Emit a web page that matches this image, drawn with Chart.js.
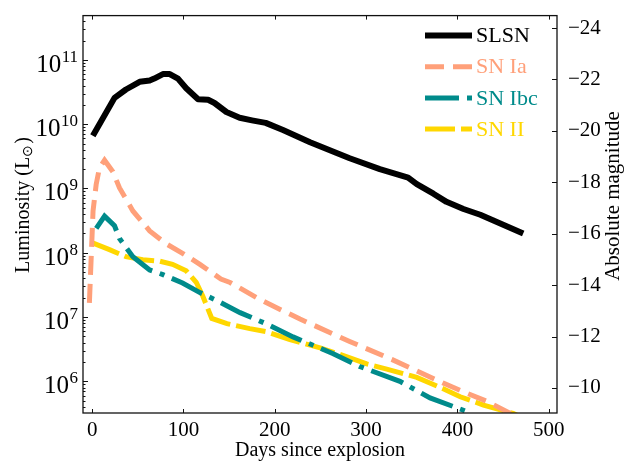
<!DOCTYPE html>
<html><head><meta charset="utf-8">
<script src="https://cdn.jsdelivr.net/npm/chart.js@4.4.1/dist/chart.umd.min.js"></script>
<style>html,body{margin:0;padding:0;background:#fff;}</style>
</head><body>
<canvas id="c" width="625" height="462"></canvas>
<script>
// ---- data ----
const seriesNames = ['SLSN', 'SN Ia', 'SN Ibc', 'SN II'];

const slsnDays = [0.8, 24.5, 37, 52, 63, 68, 77.5, 85, 94, 103, 116, 127, 134, 147, 161.5, 175, 190, 209, 238.6, 282, 315, 346, 355.5, 373.7, 388, 406.6, 425, 472];
const slsnLum  = [6.6e9, 2.57e10, 3.47e10, 4.57e10, 4.79e10, 5.13e10, 6.03e10, 6.03e10, 5.13e10, 3.63e10, 2.45e10, 2.40e10, 2.14e10, 1.55e10, 1.26e10, 1.15e10, 1.05e10, 8.1e9, 5.25e9, 2.95e9, 2.0e9, 1.48e9, 1.17e9, 8.3e8, 6.2e8, 4.8e8, 3.9e8, 2.0e8];

const iaDays = [-3, 1, 4.4, 8, 13.6, 22.7, 30, 44.6, 63, 81, 99, 118, 141, 151, 184, 227.6, 271, 282, 328, 385, 403, 432, 458, 470];
const iaLum  = [1.66e7, 4.47e8, 1.15e9, 2.09e9, 2.75e9, 1.82e9, 1.02e9, 4.47e8, 2.19e8, 1.38e8, 9.8e7, 6.6e7, 3.9e7, 3.45e7, 1.86e7, 9.3e6, 4.9e6, 4.17e6, 2.19e6, 9.3e5, 7.2e5, 4.9e5, 3.16e5, 2.7e5];

const ibcDays = [4.5, 13.6, 24.5, 30, 44.6, 63, 77.5, 99, 118, 136, 162, 191, 220, 264, 293, 337, 370, 414];
const ibcLum  = [2.4e8, 3.72e8, 2.63e8, 1.66e8, 8.7e7, 5.4e7, 4.57e7, 3.39e7, 2.4e7, 1.82e7, 1.17e7, 7.8e6, 4.9e6, 2.69e6, 1.7e6, 1.0e6, 5.5e5, 3.24e5];

const iiDays = [-1, 19, 37, 55.5, 74, 88, 103, 114, 121, 131, 147.6, 172.6, 191, 216.6, 249.6, 271, 300.7, 322.6, 355.5, 385, 403, 428.5, 461, 470];
const iiLum  = [1.45e8, 1.12e8, 8.7e7, 7.8e7, 7.4e7, 6.6e7, 5.25e7, 3.47e7, 2.14e7, 9.5e6, 7.9e6, 6.6e6, 5.9e6, 4.47e6, 3.3e6, 2.63e6, 1.86e6, 1.55e6, 1.15e6, 7.6e5, 5.75e5, 4.27e5, 3.16e5, 2.75e5];

const xTicks = [0, 100, 200, 300, 400, 500];
const lumDecadeExps = [6, 7, 8, 9, 10, 11];
const magTicks = [-24, -22, -20, -18, -16, -14, -12, -10];
const xTitle = 'Days since explosion';
const yTitle = ['Luminosity (L', '\u2299', ')'];
const magTitle = 'Absolute magnitude';

const X_MIN = -10, X_MAX = 509;
const L_MIN = 3.21e5, L_MAX = 4.9e11;
const MSUN = 4.74;
const MAG_TOP = MSUN - 2.5 * Math.log10(L_MAX);
const MAG_BOTTOM = MSUN - 2.5 * Math.log10(L_MIN);

const FONT = "'Liberation Serif', 'Times New Roman', serif";

function pts(d, l) { return d.map((x, i) => ({x: x, y: l[i]})); }

const datasets = [
  {label: seriesNames[0], data: pts(slsnDays, slsnLum), borderColor: '#000000', borderWidth: 6, borderDash: [], borderJoinStyle: 'round', borderCapStyle: 'butt'},
  {label: seriesNames[1], data: pts(iaDays, iaLum), borderColor: '#FFA07A', borderWidth: 5, borderDash: [19, 9], borderCapStyle: 'butt'},
  {label: seriesNames[2], data: pts(ibcDays, ibcLum), borderColor: '#008B8B', borderWidth: 5, borderDash: [34, 8, 5, 8], borderCapStyle: 'butt'},
  {label: seriesNames[3], data: pts(iiDays, iiLum), borderColor: '#FFD700', borderWidth: 5, borderDash: [30, 6], borderCapStyle: 'butt'}
].map(d => Object.assign(d, {fill: false, pointRadius: 0, tension: 0, clip: 0, xAxisID: 'x', yAxisID: 'y'}));

const decorPlugin = {
  id: 'decor',
  afterDraw(chart) {
    const ctx = chart.ctx, a = chart.chartArea;
    const xs = chart.scales.x, ys = chart.scales.y, ms = chart.scales.mag;
    ctx.save();
    // frame
    ctx.strokeStyle = '#111'; ctx.lineWidth = 1.3; ctx.setLineDash([]);
    ctx.strokeRect(a.left, a.top, a.right - a.left, a.bottom - a.top);
    ctx.lineWidth = 1;
    ctx.beginPath();
    // x ticks (bottom & top, inward)
    xTicks.forEach(v => {
      const px = Math.round(xs.getPixelForValue(v)) + 0.5;
      ctx.moveTo(px, a.bottom); ctx.lineTo(px, a.bottom - 4);
      ctx.moveTo(px, a.top); ctx.lineTo(px, a.top + 4);
    });
    // log ticks (left, inward)
    for (let e = 5; e <= 11; e++) {
      for (let m = 1; m <= 9; m++) {
        const v = m * Math.pow(10, e);
        if (v < L_MIN || v > L_MAX) continue;
        const py = Math.round(ys.getPixelForValue(v)) + 0.5;
        const len = m === 1 ? 5 : 2.5;
        ctx.moveTo(a.left, py); ctx.lineTo(a.left + len, py);
      }
    }
    // magnitude ticks (right, inward)
    magTicks.forEach(v => {
      const py = Math.round(ms.getPixelForValue(v)) + 0.5;
      ctx.moveTo(a.right, py); ctx.lineTo(a.right - 5, py);
    });
    ctx.stroke();

    // left decade labels 10^n
    ctx.fillStyle = '#000';
    ctx.textBaseline = 'alphabetic';
    lumDecadeExps.forEach(e => {
      const py = ys.getPixelForValue(Math.pow(10, e));
      const expStr = String(e);
      ctx.font = '17px ' + FONT;
      const ew = ctx.measureText(expStr).width;
      const right = a.left - 5;
      ctx.textAlign = 'left';
      ctx.fillText(expStr, right - ew, py + 2);
      ctx.font = '25px ' + FONT;
      ctx.textAlign = 'right';
      ctx.fillText('10', right - ew - 0.5, py + 12);
    });

    // axis titles
    ctx.font = '20px ' + FONT;
    ctx.textAlign = 'center'; ctx.textBaseline = 'middle';
    ctx.fillText(xTitle, (a.left + a.right) / 2, 451);

    // left title with subscript
    ctx.save();
    ctx.translate(22, 205);
    ctx.rotate(-Math.PI / 2);
    ctx.font = '20px ' + FONT;
    const w0 = ctx.measureText(yTitle[0]).width;
    const w2 = ctx.measureText(yTitle[2]).width;
    ctx.font = '14px ' + FONT;
    const w1 = ctx.measureText(yTitle[1]).width;
    const tot = w0 + w1 + w2 + 1;
    let cx = -tot / 2;
    ctx.textAlign = 'left'; ctx.textBaseline = 'alphabetic';
    ctx.font = '20px ' + FONT;
    ctx.fillText(yTitle[0], cx, 7); cx += w0;
    ctx.font = '14px ' + FONT;
    ctx.fillText(yTitle[1], cx, 10); cx += w1 + 1;
    ctx.font = '20px ' + FONT;
    ctx.fillText(yTitle[2], cx, 7);
    ctx.restore();

    // right title
    ctx.save();
    ctx.translate(613, 196);
    ctx.rotate(-Math.PI / 2);
    ctx.font = '21px ' + FONT;
    ctx.textAlign = 'center'; ctx.textBaseline = 'middle';
    ctx.fillText(magTitle, 0, 0);
    ctx.restore();

    // legend
    chart.data.datasets.forEach((ds, i) => {
      const ry = 35.5 + i * 31.2;
      ctx.strokeStyle = ds.borderColor;
      ctx.lineWidth = ds.borderWidth;
      ctx.lineCap = 'butt';
      ctx.setLineDash(ds.borderDash || []);
      ctx.beginPath();
      ctx.moveTo(425, ry); ctx.lineTo(472, ry);
      ctx.stroke();
      ctx.setLineDash([]);
      ctx.fillStyle = ds.borderColor;
      ctx.font = '22px ' + FONT;
      ctx.textAlign = 'left'; ctx.textBaseline = 'middle';
      ctx.fillText(ds.label, 476, ry + 1);
    });
    ctx.restore();
  }
};

new Chart(document.getElementById('c'), {
  type: 'line',
  data: {datasets: datasets},
  options: {
    responsive: false, animation: false, devicePixelRatio: 1,
    layout: {padding: {top: 8, left: 0, right: 0, bottom: 0}},
    plugins: {legend: {display: false}, tooltip: {enabled: false}},
    scales: {
      x: {
        type: 'linear', position: 'bottom', min: X_MIN, max: X_MAX,
        grid: {display: false}, border: {display: false},
        ticks: {autoSkip: false, maxRotation: 0, padding: -3, color: '#000', font: {family: FONT, size: 21}},
        afterBuildTicks: s => { s.ticks = xTicks.map(v => ({value: v})); },
        afterFit: s => { s.height = 49; }
      },
      y: {
        type: 'logarithmic', position: 'left', min: L_MIN, max: L_MAX,
        grid: {display: false}, border: {display: false},
        ticks: {display: false},
        afterFit: s => { s.width = 83; }
      },
      mag: {
        type: 'linear', position: 'right', reverse: true, min: MAG_TOP, max: MAG_BOTTOM,
        grid: {display: false}, border: {display: false},
        ticks: {autoSkip: false, padding: 3, color: '#000', font: {family: FONT, size: 21},
                callback: v => '\u2212' + Math.abs(v)},
        afterBuildTicks: s => { s.ticks = magTicks.map(v => ({value: v})); },
        afterFit: s => { s.width = 68; }
      }
    }
  },
  plugins: [decorPlugin]
});
</script>
</body></html>
